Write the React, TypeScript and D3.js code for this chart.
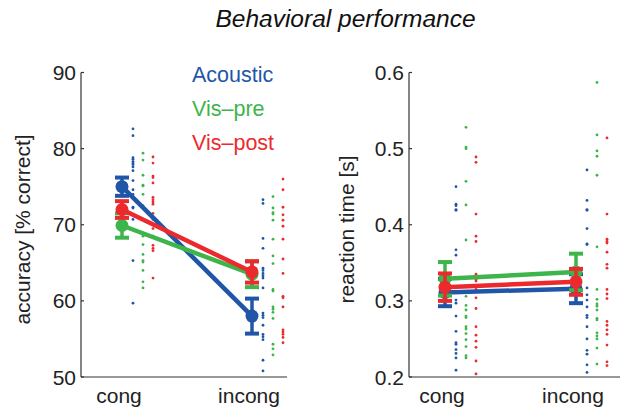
import React from "react";
import { scaleLinear, scalePoint, format } from "d3";

const width = 620;
const height = 410;

const categories = ["cong", "incong"];
const seriesNames = ["Acoustic", "Vis–pre", "Vis–post"];
const colors = ["#2056a8", "#3db54a", "#ec2a2e"];

// group means and error bars, one row per series: [cong, incong]
const accMeans = [
  [75.0, 58.0],
  [69.9, 63.5],
  [72.0, 63.8],
];
const accErr = [
  [1.2, 2.3],
  [1.6, 1.7],
  [1.1, 1.4],
];
const rtMeans = [
  [0.311, 0.316],
  [0.329, 0.338],
  [0.318, 0.325],
];
const rtErr = [
  [0.018, 0.019],
  [0.022, 0.024],
  [0.018, 0.017],
];

// single subjects, accuracy [% correct]
const accAcousticCong = [82.6, 81.7, 78.8, 78.6, 78.3, 78.1, 77.9, 77.6, 77.1, 75.8, 74.6, 74.0, 72.3, 72.2, 70.7, 65.3, 59.7];
const accVisPreCong = [79.4, 78.5, 76.5, 75.2, 75.1, 74.0, 72.5, 68.5, 67.4, 66.1, 65.3, 65.1, 64.0, 62.5, 61.7];
const accVisPostCong = [78.9, 78.1, 76.4, 76.2, 75.5, 73.6, 73.3, 73.0, 72.7, 71.5, 70.7, 69.5, 68.5, 67.3, 66.9, 66.6, 63.0];
const accAcousticIncong = [73.3, 72.8, 68.2, 66.9, 64.3, 64.0, 63.6, 63.3, 63.0, 61.7, 58.4, 58.1, 57.8, 56.8, 55.6, 55.3, 54.9, 52.2, 50.8];
const accVisPreIncong = [73.7, 72.2, 71.6, 71.4, 70.6, 68.1, 65.9, 64.9, 61.5, 61.3, 59.2, 58.9, 58.5, 57.7, 54.3, 53.7, 52.9];
const accVisPostIncong = [76.0, 74.6, 72.3, 71.3, 70.6, 69.8, 68.1, 65.5, 63.6, 60.6, 60.4, 59.2, 56.2, 55.9, 55.6, 55.2, 54.5];

// single subjects, reaction time [s]
const rtAcousticCong = [0.45, 0.427, 0.425, 0.42, 0.419, 0.367, 0.36, 0.301, 0.297, 0.28, 0.26, 0.245, 0.243, 0.236, 0.231, 0.225, 0.209];
const rtVisPreCong = [0.528, 0.502, 0.5, 0.457, 0.426, 0.38, 0.306, 0.294, 0.288, 0.28, 0.278, 0.266, 0.263, 0.257, 0.249, 0.24, 0.228, 0.225];
const rtVisPostCong = [0.489, 0.482, 0.414, 0.385, 0.378, 0.335, 0.328, 0.326, 0.315, 0.304, 0.29, 0.266, 0.255, 0.247, 0.239, 0.221, 0.204];
const rtAcousticIncong = [0.472, 0.432, 0.42, 0.419, 0.395, 0.375, 0.374, 0.317, 0.308, 0.301, 0.292, 0.281, 0.278, 0.266, 0.25, 0.235, 0.23, 0.216, 0.206];
const rtVisPreIncong = [0.587, 0.518, 0.497, 0.49, 0.465, 0.371, 0.315, 0.302, 0.296, 0.293, 0.288, 0.277, 0.275, 0.258, 0.254, 0.25, 0.238, 0.217];
const rtVisPostIncong = [0.514, 0.414, 0.381, 0.378, 0.376, 0.364, 0.348, 0.343, 0.315, 0.309, 0.303, 0.273, 0.268, 0.262, 0.256, 0.242, 0.22, 0.215];

const accTicks = [50, 60, 70, 80, 90];
const rtTicks = [0.2, 0.3, 0.4, 0.5, 0.6];

const font = "'Liberation Sans', Arial, Helvetica, sans-serif";
const top = 72.5;
const bottom = 377;
const dotOffsets = [11, 21, 31];

type PanelProps = {
  axisX: number;
  axisEnd: number;
  range: [number, number];
  domain: [number, number];
  ticks: number[];
  fmt: (v: number) => string;
  label: string;
  labelX: number;
  means: number[][];
  errs: number[][];
  dots: number[][][]; // [series][category][]
};

const Panel = (p: PanelProps) => {
  const y = scaleLinear().domain(p.domain).range([bottom, top]);
  const x = scalePoint<string>().domain(categories).range(p.range);

  return (
    <g>
      {/* individual subjects */}
      {p.dots.map((byCat, s) =>
        byCat.map((vals, c) =>
          vals.map((v, i) => (
            <circle
              key={`d${s}-${c}-${i}`}
              cx={(x(categories[c]) as number) + dotOffsets[s]}
              cy={y(v)}
              r={1.4}
              fill={colors[s]}
            />
          ))
        )
      )}
      {/* axes */}
      <line x1={p.axisX} x2={p.axisX} y1={top} y2={bottom} stroke="#333" strokeWidth={1.2} />
      <line x1={p.axisX} x2={p.axisEnd} y1={bottom} y2={bottom} stroke="#333" strokeWidth={1.2} />
      {p.ticks.map((t) => (
        <g key={t}>
          <line x1={p.axisX} x2={p.axisX + 3} y1={y(t)} y2={y(t)} stroke="#333" strokeWidth={1.2} />
          <text
            x={p.axisX - 5}
            y={y(t)}
            dy="0.36em"
            textAnchor="end"
            fontSize={21}
            fill="#222"
          >
            {p.fmt(t)}
          </text>
        </g>
      ))}
      {categories.map((c) => (
        <text key={c} x={(x(c) as number) - 3} y={403} textAnchor="middle" fontSize={21} fill="#222">
          {c}
        </text>
      ))}
      <text
        transform={`translate(${p.labelX},229.5) rotate(-90)`}
        textAnchor="middle"
        fontSize={21}
        fill="#222"
      >
        {p.label}
      </text>
      {/* means, lines and error bars */}
      {p.means.map((m, s) => (
        <g key={`m${s}`}>
          <line
            x1={x(categories[0])}
            y1={y(m[0])}
            x2={x(categories[1])}
            y2={y(m[1])}
            stroke={colors[s]}
            strokeWidth={4.5}
          />
          {m.map((v, c) => {
            const cx = x(categories[c]) as number;
            const e = p.errs[s][c];
            return (
              <g key={c}>
                <line x1={cx} x2={cx} y1={y(v - e)} y2={y(v + e)} stroke={colors[s]} strokeWidth={3.5} />
                <line x1={cx - 7} x2={cx + 7} y1={y(v - e)} y2={y(v - e)} stroke={colors[s]} strokeWidth={4} />
                <line x1={cx - 7} x2={cx + 7} y1={y(v + e)} y2={y(v + e)} stroke={colors[s]} strokeWidth={4} />
                <circle cx={cx} cy={y(v)} r={6.5} fill={colors[s]} />
              </g>
            );
          })}
        </g>
      ))}
    </g>
  );
};

export default function App() {
  return (
    <svg
      width={width}
      height={height}
      style={{ position: "absolute", left: 0, top: 0, background: "#fff" }}
      fontFamily={font}
    >
      <text x={345.5} y={27} textAnchor="middle" fontSize={24.5} fontStyle="italic" fill="#111">
        Behavioral performance
      </text>
      <Panel
        axisX={81}
        axisEnd={287}
        range={[122, 252]}
        domain={[50, 90]}
        ticks={accTicks}
        fmt={format("d")}
        label="accuracy [% correct]"
        labelX={30}
        means={accMeans}
        errs={accErr}
        dots={[
          [accAcousticCong, accAcousticIncong],
          [accVisPreCong, accVisPreIncong],
          [accVisPostCong, accVisPostIncong],
        ]}
      />
      <Panel
        axisX={409}
        axisEnd={620}
        range={[445, 576]}
        domain={[0.2, 0.6]}
        ticks={rtTicks}
        fmt={format(".1f")}
        label="reaction time [s]"
        labelX={354}
        means={rtMeans}
        errs={rtErr}
        dots={[
          [rtAcousticCong, rtAcousticIncong],
          [rtVisPreCong, rtVisPreIncong],
          [rtVisPostCong, rtVisPostIncong],
        ]}
      />
      {seriesNames.map((n, i) => (
        <text key={n} x={192} y={82 + i * 34} fontSize={21.5} fill={colors[i]}>
          {n}
        </text>
      ))}
    </svg>
  );
}
